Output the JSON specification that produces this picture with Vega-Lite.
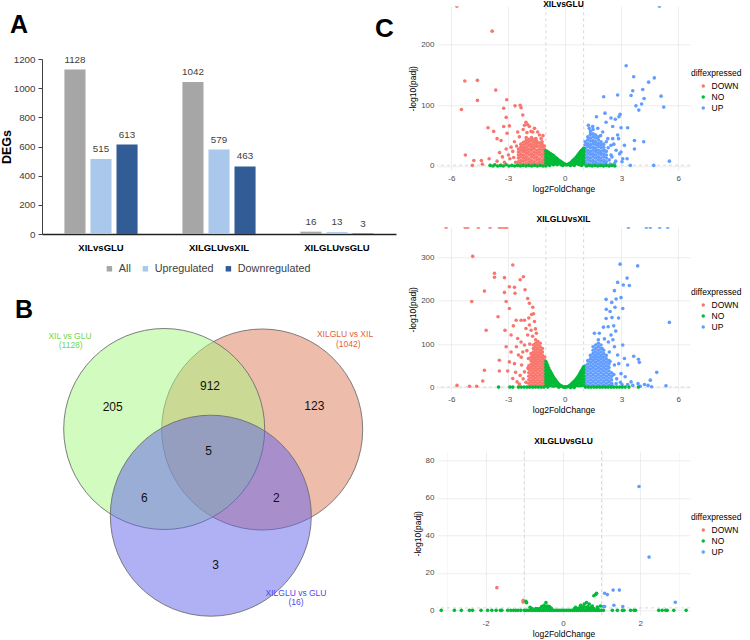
{
  "$schema": "https://vega.github.io/schema/vega-lite/v6.json",
  "background": "white",
  "padding": {"left": 0, "top": 0, "right": 0, "bottom": 0},
  "config": {
    "font": "Liberation Sans",
    "view": {"stroke": null},
    "title": {"color": "black"}
  },
  "datasets": {
    "degs": [
      {"cmp": "XILvsGLU", "type": "All", "n": 1128},
      {"cmp": "XILvsGLU", "type": "Upregulated", "n": 515},
      {"cmp": "XILvsGLU", "type": "Downregulated", "n": 613},
      {"cmp": "XILGLUvsXIL", "type": "All", "n": 1042},
      {"cmp": "XILGLUvsXIL", "type": "Upregulated", "n": 579},
      {"cmp": "XILGLUvsXIL", "type": "Downregulated", "n": 463},
      {"cmp": "XILGLUvsGLU", "type": "All", "n": 16},
      {"cmp": "XILGLUvsGLU", "type": "Upregulated", "n": 13},
      {"cmp": "XILGLUvsGLU", "type": "Downregulated", "n": 3}
    ],
    "venn_sets": [
      {"set": "R", "x": 0.498, "y": 0.286},
      {"set": "L", "x": -0.482, "y": 0.291},
      {"set": "B", "x": -0.016, "y": -0.576}
    ],
    "venn_nums": [
      {"x": -0.997, "y": 0.508, "n": 205},
      {"x": -0.024, "y": 0.724, "n": 912},
      {"x": 1.019, "y": 0.524, "n": 123},
      {"x": -0.037, "y": 0.074, "n": 5},
      {"x": -0.681, "y": -0.402, "n": 6},
      {"x": 0.639, "y": -0.402, "n": 2},
      {"x": 0.033, "y": -1.069, "n": 3}
    ],
    "venn_labels": [
      {"set": "L", "x": -1.424, "y": 1.224, "t": "XIL vs GLU"},
      {"set": "L", "x": -1.417, "y": 1.131, "t": "(1128)"},
      {"set": "R", "x": 1.326, "y": 1.241, "t": "XILGLU vs XIL"},
      {"set": "R", "x": 1.359, "y": 1.141, "t": "(1042)"},
      {"set": "B", "x": 0.836, "y": -1.349, "t": "XILGLU vs GLU"},
      {"set": "B", "x": 0.836, "y": -1.442, "t": "(16)"}
    ],
    "vl": [{"x": -1}, {"x": 1}],
    "hl": [{"y": 1.3}],
    "c1d": [
      {"x":-5.71,"y":263},{"x":-3.84,"y":222},{"x":-5.29,"y":140},{"x":-4.62,"y":141},{"x":-5.47,"y":93},{"x":-4.62,"y":108},{"x":-3.65,"y":125},{"x":-3.07,"y":109},{"x":-3.23,"y":95},{"x":-2.63,"y":99},{"x":-2.36,"y":100},{"x":-2.31,"y":96},{"x":-2.22,"y":84},{"x":-3.1,"y":80},{"x":-2.93,"y":66},{"x":-3.23,"y":65},{"x":-4.06,"y":63},{"x":-3.76,"y":57},{"x":-3.58,"y":45},{"x":-3.37,"y":42},{"x":-3.05,"y":54},{"x":-5.26,"y":18},{"x":-4.81,"y":9},{"x":-4.89,"y":1},{"x":-4.41,"y":9},{"x":-4.36,"y":3},{"x":-4.0,"y":12},{"x":-3.58,"y":8},{"x":-3.37,"y":1},{"x":-3.19,"y":6},{"x":-2.98,"y":18},{"x":-2.84,"y":31},{"x":-2.66,"y":40},{"x":-2.49,"y":56},{"x":-2.13,"y":67},{"x":-2.05,"y":72},{"x":-1.96,"y":68},{"x":-1.87,"y":65},{"x":-1.78,"y":57},{"x":-1.69,"y":56},{"x":-1.43,"y":56},{"x":-1.34,"y":51},{"x":-1.52,"y":45},{"x":-1.25,"y":45},{"x":-2.75,"y":24},{"x":-2.9,"y":12},{"x":-3.1,"y":28},{"x":-2.6,"y":6},{"x":-2.7,"y":14},{"x":-3.45,"y":22},{"x":-2.2,"y":60},{"x":-1.6,"y":62},{"x":-1.15,"y":50},{"x":-2.4,"y":48},{"x":-2.55,"y":33},{"x":-3.3,"y":15},{"x":-2.0,"y":55},
      {"x":-2.45,"y":2},{"x":-2.45,"y":7},{"x":-2.45,"y":13},{"x":-2.45,"y":18},{"x":-2.45,"y":23},{"x":-2.45,"y":28},
      {"x":-2.32,"y":4},{"x":-2.32,"y":9},{"x":-2.32,"y":15},{"x":-2.32,"y":20},{"x":-2.32,"y":26},{"x":-2.32,"y":31},{"x":-2.32,"y":36},
      {"x":-2.18,"y":2},{"x":-2.18,"y":8},{"x":-2.18,"y":13},{"x":-2.18,"y":18},{"x":-2.18,"y":24},{"x":-2.18,"y":29},{"x":-2.18,"y":34},{"x":-2.18,"y":39},
      {"x":-2.04,"y":4},{"x":-2.04,"y":10},{"x":-2.04,"y":15},{"x":-2.04,"y":21},{"x":-2.04,"y":26},{"x":-2.04,"y":31},{"x":-2.04,"y":37},{"x":-2.04,"y":42},{"x":-2.04,"y":47},
      {"x":-1.9,"y":2},{"x":-1.9,"y":7},{"x":-1.9,"y":12},{"x":-1.9,"y":18},{"x":-1.9,"y":23},{"x":-1.9,"y":28},{"x":-1.9,"y":34},{"x":-1.9,"y":39},{"x":-1.9,"y":44},
      {"x":-1.76,"y":4},{"x":-1.76,"y":9},{"x":-1.76,"y":15},{"x":-1.76,"y":20},{"x":-1.76,"y":26},{"x":-1.76,"y":31},{"x":-1.76,"y":36},{"x":-1.76,"y":42},{"x":-1.76,"y":47},
      {"x":-1.62,"y":2},{"x":-1.62,"y":7},{"x":-1.62,"y":13},{"x":-1.62,"y":18},{"x":-1.62,"y":23},{"x":-1.62,"y":29},{"x":-1.62,"y":34},{"x":-1.62,"y":39},{"x":-1.62,"y":44},
      {"x":-1.48,"y":4},{"x":-1.48,"y":10},{"x":-1.48,"y":15},{"x":-1.48,"y":21},{"x":-1.48,"y":26},{"x":-1.48,"y":32},{"x":-1.48,"y":37},{"x":-1.48,"y":41},
      {"x":-1.34,"y":2},{"x":-1.34,"y":7},{"x":-1.34,"y":12},{"x":-1.34,"y":18},{"x":-1.34,"y":23},{"x":-1.34,"y":28},{"x":-1.34,"y":33},{"x":-1.34,"y":38},
      {"x":-1.2,"y":4},{"x":-1.2,"y":9},{"x":-1.2,"y":15},{"x":-1.2,"y":20},{"x":-1.2,"y":26},{"x":-1.2,"y":31},{"x":-1.2,"y":36},{"x":-1.2,"y":40},
      {"x":-1.08,"y":2},{"x":-1.08,"y":7},{"x":-1.08,"y":12},{"x":-1.08,"y":18},{"x":-1.08,"y":23},{"x":-1.08,"y":28},{"x":-1.08,"y":33}
    ],
    "c1u": [
      {"x":5.01,"y":263},{"x":3.25,"y":165},{"x":3.65,"y":147},{"x":4.74,"y":145},{"x":4.44,"y":138},{"x":3.6,"y":124},{"x":4.13,"y":126},{"x":2.8,"y":117},{"x":2.06,"y":114},{"x":3.51,"y":116},{"x":4.2,"y":111},{"x":5.1,"y":115},{"x":5.24,"y":97},{"x":3.77,"y":99},{"x":3.92,"y":92},{"x":4.07,"y":102},{"x":1.68,"y":81},{"x":2.13,"y":87},{"x":2.45,"y":79},{"x":2.93,"y":85},{"x":2.87,"y":81},{"x":2.68,"y":77},{"x":2.19,"y":72},{"x":3.33,"y":63},{"x":2.98,"y":63},{"x":2.54,"y":65},{"x":3.69,"y":42},{"x":4.18,"y":40},{"x":3.69,"y":28},{"x":3.47,"y":1},{"x":4.71,"y":1},{"x":5.54,"y":8},{"x":3.03,"y":7},{"x":3.07,"y":12},{"x":2.63,"y":4},{"x":2.4,"y":3},{"x":2.1,"y":4},{"x":2.45,"y":18},{"x":2.72,"y":26},{"x":3.16,"y":34},{"x":2.45,"y":34},{"x":2.28,"y":45},{"x":2.01,"y":56},{"x":1.75,"y":62},{"x":1.48,"y":65},{"x":1.25,"y":67},{"x":2.8,"y":51},{"x":2.54,"y":45},{"x":2.98,"y":23},{"x":2.1,"y":26},{"x":2.35,"y":10},{"x":2.5,"y":15},{"x":2.3,"y":30},{"x":1.5,"y":60},{"x":1.9,"y":50},{"x":2.6,"y":36},{"x":2.2,"y":40},{"x":1.3,"y":62},{"x":2.7,"y":8},{"x":2.9,"y":20},{"x":3.3,"y":12},{"x":2.85,"y":45},
      {"x":1.08,"y":2},{"x":1.08,"y":7},{"x":1.08,"y":13},{"x":1.08,"y":18},{"x":1.08,"y":24},{"x":1.08,"y":29},{"x":1.08,"y":35},{"x":1.08,"y":40},
      {"x":1.22,"y":4},{"x":1.22,"y":10},{"x":1.22,"y":15},{"x":1.22,"y":21},{"x":1.22,"y":26},{"x":1.22,"y":32},{"x":1.22,"y":37},{"x":1.22,"y":43},{"x":1.22,"y":48},
      {"x":1.36,"y":2},{"x":1.36,"y":8},{"x":1.36,"y":13},{"x":1.36,"y":19},{"x":1.36,"y":24},{"x":1.36,"y":30},{"x":1.36,"y":35},{"x":1.36,"y":41},{"x":1.36,"y":46},{"x":1.36,"y":52},{"x":1.36,"y":57},
      {"x":1.5,"y":4},{"x":1.5,"y":9},{"x":1.5,"y":15},{"x":1.5,"y":20},{"x":1.5,"y":26},{"x":1.5,"y":31},{"x":1.5,"y":37},{"x":1.5,"y":42},{"x":1.5,"y":48},{"x":1.5,"y":53},
      {"x":1.64,"y":2},{"x":1.64,"y":7},{"x":1.64,"y":13},{"x":1.64,"y":18},{"x":1.64,"y":24},{"x":1.64,"y":29},{"x":1.64,"y":35},{"x":1.64,"y":40},{"x":1.64,"y":46},{"x":1.64,"y":51},
      {"x":1.78,"y":4},{"x":1.78,"y":10},{"x":1.78,"y":15},{"x":1.78,"y":21},{"x":1.78,"y":26},{"x":1.78,"y":32},{"x":1.78,"y":37},{"x":1.78,"y":43},{"x":1.78,"y":48},
      {"x":1.92,"y":2},{"x":1.92,"y":8},{"x":1.92,"y":13},{"x":1.92,"y":19},{"x":1.92,"y":24},{"x":1.92,"y":30},{"x":1.92,"y":35},{"x":1.92,"y":40},
      {"x":2.06,"y":4},{"x":2.06,"y":9},{"x":2.06,"y":15},{"x":2.06,"y":20},{"x":2.06,"y":26},{"x":2.06,"y":31},{"x":2.06,"y":36},
      {"x":2.2,"y":2},{"x":2.2,"y":7},{"x":2.2,"y":13},{"x":2.2,"y":18},{"x":2.2,"y":24}
    ],
    "c1n": [
      {"x":-1.0,"y":25},{"x":-1.0,"y":20},{"x":-1.0,"y":15},{"x":-1.0,"y":10},{"x":-1.0,"y":5},{"x":-1.0,"y":0},{"x":-0.95,"y":24},
      {"x":-0.9,"y":23},{"x":-0.9,"y":18},{"x":-0.9,"y":13},{"x":-0.9,"y":8},{"x":-0.9,"y":3},{"x":-0.85,"y":22},
      {"x":-0.8,"y":21},{"x":-0.8,"y":16},{"x":-0.8,"y":11},{"x":-0.8,"y":6},{"x":-0.8,"y":1},{"x":-0.75,"y":20},
      {"x":-0.7,"y":19},{"x":-0.7,"y":14},{"x":-0.7,"y":9},{"x":-0.7,"y":4},{"x":-0.65,"y":18},
      {"x":-0.6,"y":17},{"x":-0.6,"y":12},{"x":-0.6,"y":7},{"x":-0.6,"y":2},{"x":-0.55,"y":15},
      {"x":-0.5,"y":14},{"x":-0.5,"y":9},{"x":-0.5,"y":4},{"x":-0.45,"y":13},
      {"x":-0.4,"y":12},{"x":-0.4,"y":7},{"x":-0.4,"y":2},{"x":-0.35,"y":10},
      {"x":-0.3,"y":9},{"x":-0.3,"y":4},{"x":-0.25,"y":8},{"x":-0.2,"y":7},{"x":-0.2,"y":2},{"x":-0.15,"y":6},
      {"x":-0.1,"y":5},{"x":-0.1,"y":1},{"x":-0.05,"y":4},{"x":0,"y":3},{"x":0.05,"y":2},{"x":0.1,"y":2},{"x":0.15,"y":2},{"x":0.2,"y":3},{"x":0.25,"y":4},
      {"x":0.3,"y":5},{"x":0.3,"y":1},{"x":0.35,"y":6},{"x":0.4,"y":8},{"x":0.4,"y":3},{"x":0.45,"y":9},
      {"x":0.5,"y":11},{"x":0.5,"y":6},{"x":0.5,"y":1},{"x":0.55,"y":12},
      {"x":0.6,"y":14},{"x":0.6,"y":9},{"x":0.6,"y":4},{"x":0.65,"y":16},
      {"x":0.7,"y":18},{"x":0.7,"y":13},{"x":0.7,"y":8},{"x":0.7,"y":3},{"x":0.75,"y":20},
      {"x":0.8,"y":22},{"x":0.8,"y":17},{"x":0.8,"y":12},{"x":0.8,"y":7},{"x":0.8,"y":2},{"x":0.85,"y":24},
      {"x":0.9,"y":26},{"x":0.9,"y":21},{"x":0.9,"y":16},{"x":0.9,"y":11},{"x":0.9,"y":6},{"x":0.9,"y":1},{"x":0.95,"y":27},
      {"x":1.0,"y":29},{"x":1.0,"y":24},{"x":1.0,"y":19},{"x":1.0,"y":14},{"x":1.0,"y":9},{"x":1.0,"y":4},
      {"x":-3.95,"y":1},{"x":-3.8,"y":0},{"x":-3.7,"y":2},{"x":-3.55,"y":0},{"x":-3.4,"y":1},{"x":-3.25,"y":0},{"x":-3.1,"y":2},{"x":-2.95,"y":0},{"x":-2.8,"y":1},{"x":-2.65,"y":0},{"x":-2.5,"y":1},{"x":-2.35,"y":0},{"x":-2.2,"y":1},{"x":-2.05,"y":0},{"x":-1.9,"y":1},{"x":-1.75,"y":0},{"x":-1.6,"y":1},{"x":-1.45,"y":0},{"x":-1.3,"y":1},{"x":-1.15,"y":0},
      {"x":1.15,"y":0},{"x":1.3,"y":1},{"x":1.45,"y":0},{"x":1.6,"y":1},{"x":1.75,"y":0},{"x":1.9,"y":1},{"x":2.05,"y":0},{"x":2.2,"y":1},{"x":2.35,"y":0},{"x":2.5,"y":1},{"x":2.65,"y":0}
    ],
    "c2d": [
      {"x":-6.28,"y":369},{"x":-5.27,"y":369},{"x":-5.13,"y":369},{"x":-4.57,"y":369},{"x":-3.95,"y":369},{"x":-3.46,"y":369},{"x":-3.33,"y":369},{"x":-3.19,"y":369},{"x":-3.07,"y":369},
      {"x":-4.87,"y":302},{"x":-3.72,"y":263},{"x":-3.72,"y":254},{"x":-3.19,"y":253},{"x":-2.75,"y":282},{"x":-2.93,"y":232},{"x":-2.66,"y":231},{"x":-2.36,"y":248},{"x":-2.19,"y":255},{"x":-2.1,"y":225},{"x":-1.96,"y":205},{"x":-1.87,"y":194},{"x":-1.69,"y":185},{"x":-1.75,"y":168},{"x":-3.19,"y":219},{"x":-2.63,"y":217},{"x":-4.92,"y":198},{"x":-4.25,"y":222},{"x":-4.16,"y":132},{"x":-3.53,"y":163},{"x":-3.1,"y":198},{"x":-3.16,"y":132},{"x":-2.72,"y":142},{"x":-2.57,"y":155},{"x":-2.31,"y":155},{"x":-2.13,"y":155},{"x":-2.93,"y":182},{"x":-2.84,"y":121},{"x":-3.46,"y":63},{"x":-2.93,"y":59},{"x":-3.46,"y":38},{"x":-4.25,"y":40},{"x":-4.34,"y":15},{"x":-5.7,"y":5},{"x":-5.04,"y":3},{"x":-4.66,"y":3},{"x":-3.02,"y":38},{"x":-2.75,"y":21},{"x":-2.52,"y":13},{"x":-2.49,"y":113},{"x":-2.31,"y":105},{"x":-2.13,"y":98},{"x":-1.96,"y":121},{"x":-1.87,"y":144},{"x":-1.78,"y":132},{"x":-1.6,"y":152},{"x":-2.05,"y":136},{"x":-2.45,"y":75},{"x":-2.66,"y":55},{"x":-2.28,"y":52},{"x":-2.13,"y":36},{"x":-1.92,"y":67},{"x":-2.36,"y":28},{"x":-2.84,"y":82},{"x":-3.1,"y":94},{"x":-2.56,"y":94},{"x":-2.22,"y":82},{"x":-2.0,"y":85},{"x":-1.85,"y":100},{"x":-1.95,"y":45},{"x":-2.2,"y":20},{"x":-2.05,"y":12},{"x":-2.3,"y":70},{"x":-1.7,"y":118},{"x":-1.55,"y":135},{"x":-1.5,"y":125},{"x":-2.6,"y":35},{"x":-2.4,"y":8},{"x":-1.9,"y":160},{"x":-1.65,"y":170},
      {"x":-1.9,"y":2},{"x":-1.9,"y":10},{"x":-1.9,"y":18},{"x":-1.9,"y":26},{"x":-1.9,"y":34},{"x":-1.9,"y":42},{"x":-1.9,"y":50},
      {"x":-1.78,"y":6},{"x":-1.78,"y":14},{"x":-1.78,"y":22},{"x":-1.78,"y":30},{"x":-1.78,"y":38},{"x":-1.78,"y":46},{"x":-1.78,"y":54},{"x":-1.78,"y":62},{"x":-1.78,"y":70},{"x":-1.78,"y":78},
      {"x":-1.66,"y":2},{"x":-1.66,"y":10},{"x":-1.66,"y":18},{"x":-1.66,"y":26},{"x":-1.66,"y":34},{"x":-1.66,"y":42},{"x":-1.66,"y":50},{"x":-1.66,"y":58},{"x":-1.66,"y":66},{"x":-1.66,"y":74},{"x":-1.66,"y":82},{"x":-1.66,"y":90},{"x":-1.66,"y":98},
      {"x":-1.54,"y":6},{"x":-1.54,"y":14},{"x":-1.54,"y":22},{"x":-1.54,"y":30},{"x":-1.54,"y":38},{"x":-1.54,"y":46},{"x":-1.54,"y":54},{"x":-1.54,"y":62},{"x":-1.54,"y":70},{"x":-1.54,"y":78},{"x":-1.54,"y":86},{"x":-1.54,"y":94},{"x":-1.54,"y":102},{"x":-1.54,"y":110},
      {"x":-1.42,"y":2},{"x":-1.42,"y":10},{"x":-1.42,"y":18},{"x":-1.42,"y":26},{"x":-1.42,"y":34},{"x":-1.42,"y":42},{"x":-1.42,"y":50},{"x":-1.42,"y":58},{"x":-1.42,"y":66},{"x":-1.42,"y":74},{"x":-1.42,"y":82},{"x":-1.42,"y":90},{"x":-1.42,"y":98},{"x":-1.42,"y":106},
      {"x":-1.3,"y":6},{"x":-1.3,"y":14},{"x":-1.3,"y":22},{"x":-1.3,"y":30},{"x":-1.3,"y":38},{"x":-1.3,"y":46},{"x":-1.3,"y":54},{"x":-1.3,"y":62},{"x":-1.3,"y":70},{"x":-1.3,"y":78},{"x":-1.3,"y":86},{"x":-1.3,"y":94},{"x":-1.3,"y":102},
      {"x":-1.18,"y":2},{"x":-1.18,"y":10},{"x":-1.18,"y":18},{"x":-1.18,"y":26},{"x":-1.18,"y":34},{"x":-1.18,"y":42},{"x":-1.18,"y":50},{"x":-1.18,"y":58},{"x":-1.18,"y":66},{"x":-1.18,"y":74},{"x":-1.18,"y":82},{"x":-1.18,"y":90},
      {"x":-1.06,"y":6},{"x":-1.06,"y":14},{"x":-1.06,"y":22},{"x":-1.06,"y":30},{"x":-1.06,"y":38},{"x":-1.06,"y":46},{"x":-1.06,"y":54},{"x":-1.06,"y":62},{"x":-1.06,"y":70}
    ],
    "c2u": [
      {"x":3.37,"y":369},{"x":4.32,"y":369},{"x":4.53,"y":369},{"x":5.03,"y":369},{"x":5.45,"y":369},
      {"x":2.93,"y":284},{"x":3.86,"y":280},{"x":3.3,"y":252},{"x":3.1,"y":236},{"x":2.8,"y":242},{"x":3.42,"y":235},{"x":2.63,"y":223},{"x":2.19,"y":203},{"x":2.72,"y":204},{"x":2.49,"y":196},{"x":2.98,"y":207},{"x":3.07,"y":182},{"x":2.66,"y":185},{"x":2.4,"y":175},{"x":2.5,"y":161},{"x":2.19,"y":159},{"x":2.59,"y":142},{"x":2.05,"y":139},{"x":1.83,"y":125},{"x":1.57,"y":125},{"x":5.54,"y":150},{"x":3.65,"y":72},{"x":3.9,"y":65},{"x":3.95,"y":58},{"x":4.87,"y":35},{"x":4.53,"y":17},{"x":4.22,"y":7},{"x":5.36,"y":4},{"x":3.16,"y":67},{"x":2.8,"y":75},{"x":2.86,"y":55},{"x":2.98,"y":32},{"x":2.63,"y":52},{"x":2.45,"y":121},{"x":2.31,"y":105},{"x":2.1,"y":112},{"x":1.98,"y":90},{"x":2.36,"y":82},{"x":2.63,"y":94},{"x":3.07,"y":98},{"x":3.33,"y":52},{"x":3.51,"y":13},{"x":3.88,"y":9},{"x":4.41,"y":5},{"x":3.33,"y":7},{"x":2.72,"y":9},{"x":3.03,"y":7},{"x":2.3,"y":140},{"x":2.55,"y":110},{"x":2.7,"y":130},{"x":2.2,"y":180},{"x":2.85,"y":160},{"x":2.4,"y":60},{"x":2.6,"y":30},{"x":2.75,"y":20},{"x":3.2,"y":25},{"x":2.95,"y":12},{"x":3.6,"y":5},{"x":4.0,"y":3},{"x":4.6,"y":2},{"x":2.5,"y":5},
      {"x":1.08,"y":2},{"x":1.08,"y":10},{"x":1.08,"y":18},{"x":1.08,"y":26},{"x":1.08,"y":34},{"x":1.08,"y":42},{"x":1.08,"y":50},
      {"x":1.22,"y":6},{"x":1.22,"y":14},{"x":1.22,"y":22},{"x":1.22,"y":30},{"x":1.22,"y":38},{"x":1.22,"y":46},{"x":1.22,"y":54},{"x":1.22,"y":62},
      {"x":1.36,"y":2},{"x":1.36,"y":10},{"x":1.36,"y":18},{"x":1.36,"y":26},{"x":1.36,"y":34},{"x":1.36,"y":42},{"x":1.36,"y":50},{"x":1.36,"y":58},{"x":1.36,"y":66},{"x":1.36,"y":74},
      {"x":1.5,"y":6},{"x":1.5,"y":14},{"x":1.5,"y":22},{"x":1.5,"y":30},{"x":1.5,"y":38},{"x":1.5,"y":46},{"x":1.5,"y":54},{"x":1.5,"y":62},{"x":1.5,"y":70},{"x":1.5,"y":78},{"x":1.5,"y":86},{"x":1.5,"y":94},
      {"x":1.64,"y":2},{"x":1.64,"y":10},{"x":1.64,"y":18},{"x":1.64,"y":26},{"x":1.64,"y":34},{"x":1.64,"y":42},{"x":1.64,"y":50},{"x":1.64,"y":58},{"x":1.64,"y":66},{"x":1.64,"y":74},{"x":1.64,"y":82},{"x":1.64,"y":90},{"x":1.64,"y":98},
      {"x":1.78,"y":6},{"x":1.78,"y":14},{"x":1.78,"y":22},{"x":1.78,"y":30},{"x":1.78,"y":38},{"x":1.78,"y":46},{"x":1.78,"y":54},{"x":1.78,"y":62},{"x":1.78,"y":70},{"x":1.78,"y":78},{"x":1.78,"y":86},{"x":1.78,"y":94},{"x":1.78,"y":102},{"x":1.78,"y":110},
      {"x":1.92,"y":2},{"x":1.92,"y":10},{"x":1.92,"y":18},{"x":1.92,"y":26},{"x":1.92,"y":34},{"x":1.92,"y":42},{"x":1.92,"y":50},{"x":1.92,"y":58},{"x":1.92,"y":66},{"x":1.92,"y":74},{"x":1.92,"y":82},{"x":1.92,"y":90},{"x":1.92,"y":98},
      {"x":2.06,"y":6},{"x":2.06,"y":14},{"x":2.06,"y":22},{"x":2.06,"y":30},{"x":2.06,"y":38},{"x":2.06,"y":46},{"x":2.06,"y":54},{"x":2.06,"y":62},{"x":2.06,"y":70},{"x":2.06,"y":78},{"x":2.06,"y":86},
      {"x":2.2,"y":2},{"x":2.2,"y":10},{"x":2.2,"y":18},{"x":2.2,"y":26},{"x":2.2,"y":34},{"x":2.2,"y":42},{"x":2.2,"y":50},{"x":2.2,"y":58},{"x":2.2,"y":66},{"x":2.2,"y":74},
      {"x":2.34,"y":6},{"x":2.34,"y":14},{"x":2.34,"y":22},{"x":2.34,"y":30},{"x":2.34,"y":38},{"x":2.34,"y":46},{"x":2.34,"y":54},{"x":2.34,"y":62},
      {"x":2.48,"y":2},{"x":2.48,"y":10},{"x":2.48,"y":18},{"x":2.48,"y":26},{"x":2.48,"y":34}
    ],
    "c2n": [
      {"x":-1.0,"y":60},{"x":-1.0,"y":53},{"x":-1.0,"y":46},{"x":-1.0,"y":39},{"x":-1.0,"y":32},{"x":-1.0,"y":25},{"x":-1.0,"y":18},{"x":-1.0,"y":11},{"x":-1.0,"y":4},
      {"x":-0.95,"y":55},{"x":-0.95,"y":48},
      {"x":-0.9,"y":50},{"x":-0.9,"y":43},{"x":-0.9,"y":36},{"x":-0.9,"y":29},{"x":-0.9,"y":22},{"x":-0.9,"y":15},{"x":-0.9,"y":8},{"x":-0.9,"y":1},
      {"x":-0.85,"y":45},{"x":-0.85,"y":38},
      {"x":-0.8,"y":40},{"x":-0.8,"y":33},{"x":-0.8,"y":26},{"x":-0.8,"y":19},{"x":-0.8,"y":12},{"x":-0.8,"y":5},
      {"x":-0.75,"y":36},{"x":-0.75,"y":29},
      {"x":-0.7,"y":32},{"x":-0.7,"y":25},{"x":-0.7,"y":18},{"x":-0.7,"y":11},{"x":-0.7,"y":4},
      {"x":-0.65,"y":28},{"x":-0.65,"y":21},
      {"x":-0.6,"y":24},{"x":-0.6,"y":17},{"x":-0.6,"y":10},{"x":-0.6,"y":3},
      {"x":-0.55,"y":21},{"x":-0.55,"y":14},
      {"x":-0.5,"y":18},{"x":-0.5,"y":11},{"x":-0.5,"y":4},
      {"x":-0.45,"y":15},{"x":-0.45,"y":8},
      {"x":-0.4,"y":12},{"x":-0.4,"y":5},{"x":-0.35,"y":9},{"x":-0.35,"y":2},
      {"x":-0.3,"y":7},{"x":-0.3,"y":1},{"x":-0.25,"y":5},{"x":-0.2,"y":4},{"x":-0.15,"y":3},{"x":-0.1,"y":2},{"x":-0.05,"y":1},{"x":0,"y":1},{"x":0.05,"y":1},{"x":0.1,"y":2},{"x":0.15,"y":2},{"x":0.2,"y":3},{"x":0.25,"y":4},
      {"x":0.3,"y":6},{"x":0.3,"y":0},{"x":0.35,"y":8},{"x":0.35,"y":1},{"x":0.4,"y":10},{"x":0.4,"y":3},{"x":0.45,"y":12},{"x":0.45,"y":5},
      {"x":0.5,"y":14},{"x":0.5,"y":7},{"x":0.5,"y":0},{"x":0.55,"y":16},{"x":0.55,"y":9},
      {"x":0.6,"y":19},{"x":0.6,"y":12},{"x":0.6,"y":5},{"x":0.65,"y":22},{"x":0.65,"y":15},
      {"x":0.7,"y":25},{"x":0.7,"y":18},{"x":0.7,"y":11},{"x":0.7,"y":4},{"x":0.75,"y":28},{"x":0.75,"y":21},
      {"x":0.8,"y":32},{"x":0.8,"y":25},{"x":0.8,"y":18},{"x":0.8,"y":11},{"x":0.8,"y":4},{"x":0.85,"y":36},{"x":0.85,"y":29},
      {"x":0.9,"y":40},{"x":0.9,"y":33},{"x":0.9,"y":26},{"x":0.9,"y":19},{"x":0.9,"y":12},{"x":0.9,"y":5},{"x":0.95,"y":44},{"x":0.95,"y":37},
      {"x":1.0,"y":48},{"x":1.0,"y":41},{"x":1.0,"y":34},{"x":1.0,"y":27},{"x":1.0,"y":20},{"x":1.0,"y":13},{"x":1.0,"y":6},
      {"x":-3.5,"y":1},{"x":-2.9,"y":1},{"x":-2.75,"y":1},{"x":-2.45,"y":1},{"x":-2.3,"y":1},{"x":-2.15,"y":1},{"x":-2.0,"y":1},{"x":-1.85,"y":1},{"x":-1.7,"y":1},{"x":-1.55,"y":1},{"x":-1.4,"y":1},{"x":-1.25,"y":1},{"x":-1.1,"y":1},
      {"x":1.1,"y":1},{"x":1.25,"y":1},{"x":1.4,"y":1},{"x":1.55,"y":1},{"x":1.7,"y":1},{"x":1.85,"y":1},{"x":2.0,"y":1},{"x":2.15,"y":1},{"x":2.3,"y":1},{"x":2.45,"y":1},{"x":2.6,"y":1},{"x":2.75,"y":1},{"x":2.9,"y":1},{"x":3.05,"y":1},{"x":3.2,"y":1},{"x":3.4,"y":1},{"x":3.9,"y":1}
    ],
    "c3d": [
      {"x":-1.71,"y":12.1},{"x":-1.03,"y":5.3},{"x":-1.03,"y":4.4}
    ],
    "c3u": [
      {"x":1.97,"y":66},{"x":2.23,"y":28.4},{"x":1.3,"y":10.8},{"x":1.46,"y":10.8},{"x":1.08,"y":9.1},{"x":1.15,"y":8.4},{"x":2.91,"y":4.3},{"x":1.32,"y":2.7},{"x":1.55,"y":2.1},{"x":1.04,"y":2.1},{"x":1.08,"y":2.1}
    ],
    "c3n": [
      {"x":-3.15,"y":0},{"x":-2.81,"y":0},{"x":-2.63,"y":0},{"x":-2.42,"y":0},{"x":-2.34,"y":0},{"x":-2.12,"y":0},{"x":-1.95,"y":0},{"x":-1.84,"y":0},{"x":-1.73,"y":0},{"x":-1.62,"y":0},{"x":-1.58,"y":0},{"x":-1.43,"y":0},{"x":-1.35,"y":0},{"x":-1.28,"y":0},{"x":-1.22,"y":0},{"x":-1.16,"y":0},{"x":-1.09,"y":0},
      {"x":-1.0,"y":0},{"x":-0.95,"y":0},{"x":-0.9,"y":0},{"x":-0.85,"y":0},{"x":-0.8,"y":0},{"x":-0.75,"y":0},{"x":-0.7,"y":0},{"x":-0.65,"y":0},{"x":-0.6,"y":0},{"x":-0.55,"y":0},{"x":-0.5,"y":0},{"x":-0.45,"y":0},{"x":-0.4,"y":0},{"x":-0.35,"y":0},{"x":-0.3,"y":0},{"x":-0.25,"y":0},{"x":-0.2,"y":0},{"x":-0.15,"y":0},{"x":-0.1,"y":0},{"x":-0.05,"y":0},{"x":0,"y":0},{"x":0.05,"y":0},{"x":0.1,"y":0},{"x":0.15,"y":0},{"x":0.2,"y":0},{"x":0.25,"y":0},{"x":0.3,"y":0},{"x":0.35,"y":0},{"x":0.4,"y":0},{"x":0.45,"y":0},{"x":0.5,"y":0},{"x":0.55,"y":0},{"x":0.6,"y":0},{"x":0.65,"y":0},{"x":0.7,"y":0},{"x":0.75,"y":0},{"x":0.8,"y":0},{"x":0.85,"y":0},{"x":0.9,"y":0},{"x":0.95,"y":0},{"x":1.0,"y":0},{"x":1.05,"y":0},
      {"x":1.28,"y":0},{"x":1.41,"y":0},{"x":1.54,"y":0},{"x":1.58,"y":0},{"x":1.75,"y":0},{"x":1.84,"y":0},{"x":1.88,"y":0},{"x":2.48,"y":0},{"x":2.57,"y":0},{"x":2.66,"y":0},{"x":2.7,"y":0},{"x":2.87,"y":0},{"x":3.19,"y":0},
      {"x":-0.8,"y":1},{"x":-0.7,"y":1},{"x":-0.6,"y":1},{"x":-0.5,"y":1},{"x":-0.4,"y":1},{"x":-0.3,"y":1},{"x":0.3,"y":1},{"x":0.4,"y":1},{"x":0.5,"y":1},{"x":0.6,"y":1},{"x":0.7,"y":1},{"x":0.8,"y":1},{"x":0.9,"y":1},
      {"x":-0.55,"y":2},{"x":-0.45,"y":2},{"x":-0.35,"y":2},{"x":0.45,"y":2},{"x":0.55,"y":2},{"x":0.65,"y":2},{"x":0.75,"y":2},
      {"x":-0.96,"y":4.8},{"x":-0.94,"y":4.1},{"x":-0.85,"y":1.6},{"x":-0.66,"y":0.9},{"x":-0.44,"y":4.1},{"x":-0.49,"y":2.7},{"x":-0.4,"y":2.3},{"x":-0.31,"y":1.2},{"x":0.33,"y":1.6},{"x":0.46,"y":2.7},{"x":0.55,"y":3.4},{"x":0.61,"y":4.1},{"x":0.68,"y":3.4},{"x":0.76,"y":2.3},{"x":0.8,"y":7.8},{"x":0.85,"y":8.5},{"x":0.87,"y":9.1},{"x":0.89,"y":1.8},{"x":0.97,"y":2.3},{"x":0.5,"y":1.6},{"x":0.37,"y":0.9},{"x":0.72,"y":0.9},{"x":0.63,"y":1.6}
    ]
  },
  "resolve": {"scale": {"color": "independent", "fill": "independent"}},
  "spacing": -21,
  "center": true,
  "hconcat": [
    {
      "spacing": 23,
      "resolve": {"scale": {"color": "independent", "fill": "independent"}},
      "vconcat": [
        {
          "width": 354,
          "height": 175,
          "data": {"name": "degs"},
          "title": {"text": "A", "anchor": "start", "frame": "group", "fontSize": 25, "fontWeight": "bold", "dx": -32, "offset": 16},
          "encoding": {
            "x": {"field": "cmp", "type": "nominal", "sort": ["XILvsGLU", "XILGLUvsXIL", "XILGLUvsGLU"], "scale": {"paddingInner": 0.38, "paddingOuter": 0.19},
              "axis": {"title": null, "labelAngle": 0, "labelFontWeight": "bold", "labelFontSize": 9.5, "labelColor": "black", "ticks": false, "domainColor": "#222222", "domainWidth": 1.3, "labelPadding": 8}},
            "xOffset": {"field": "type", "type": "nominal", "sort": ["All", "Upregulated", "Downregulated"], "scale": {"paddingInner": 0.19, "paddingOuter": 0}},
            "y": {"field": "n", "type": "quantitative", "scale": {"domain": [0, 1200], "nice": false},
              "axis": {"values": [0, 200, 400, 600, 800, 1000, 1200], "format": "d", "title": "DEGs", "titleFontWeight": "bold", "titleFontSize": 12.5, "titleColor": "black", "titlePadding": 0, "grid": false, "labelFontSize": 9.8, "labelColor": "#404040", "domainColor": "#404040", "tickColor": "#404040", "tickSize": 4, "labelPadding": 3}}
          },
          "layer": [
            {
              "mark": {"type": "bar"},
              "encoding": {
                "color": {"field": "type", "type": "nominal", "sort": ["All", "Upregulated", "Downregulated"],
                  "scale": {"domain": ["All", "Upregulated", "Downregulated"], "range": ["#A6A6A6", "#AAC8EB", "#315C95"]},
                  "legend": {"title": null, "orient": "none", "direction": "horizontal", "legendX": 62, "legendY": 204, "symbolType": "square", "symbolSize": 30, "labelFontSize": 10.8, "labelColor": "#404040", "columnPadding": 9, "labelOffset": 4, "padding": 0}}
              }
            },
            {
              "mark": {"type": "text", "baseline": "bottom", "dy": -5, "fontSize": 9.8, "color": "#404040"},
              "encoding": {"text": {"field": "n", "type": "quantitative"}}
            }
          ]
        },
        {
          "width": 330,
          "height": 301,
          "title": {"text": "B", "anchor": "start", "frame": "group", "fontSize": 25, "fontWeight": "bold", "dx": -27, "offset": -0.5},
          "layer": [
            {
              "data": {"name": "venn_sets"},
              "mark": {"type": "circle", "size": 40401, "opacity": 1, "fillOpacity": 0.5, "stroke": "#6e6e6e", "strokeWidth": 0.9},
              "encoding": {
                "x": {"field": "x", "type": "quantitative", "scale": {"domain": [-1.704, 1.596], "nice": false, "zero": false}, "axis": null},
                "y": {"field": "y", "type": "quantitative", "scale": {"domain": [-1.649, 1.361], "nice": false, "zero": false}, "axis": null},
                "fill": {"field": "set", "type": "nominal", "scale": {"domain": ["R", "L", "B"], "range": ["#DD7957", "#A5F77F", "#6161EB"]}, "legend": null}
              }
            },
            {
              "data": {"name": "venn_nums"},
              "mark": {"type": "text", "fontSize": 12, "color": "#111111"},
              "encoding": {
                "x": {"field": "x", "type": "quantitative", "axis": null},
                "y": {"field": "y", "type": "quantitative", "axis": null},
                "text": {"field": "n", "type": "quantitative"}
              }
            },
            {
              "data": {"name": "venn_labels"},
              "mark": {"type": "text", "fontSize": 8.5},
              "encoding": {
                "x": {"field": "x", "type": "quantitative", "axis": null},
                "y": {"field": "y", "type": "quantitative", "axis": null},
                "text": {"field": "t"},
                "color": {"field": "set", "type": "nominal", "scale": {"domain": ["L", "R", "B"], "range": ["#6FD948", "#DF5F3B", "#4B4BEF"]}, "legend": null}
              }
            }
          ]
        }
      ]
    },
    {
      "spacing": 22,
      "resolve": {"scale": {"color": "independent"}},
      "title": {"text": "C", "orient": "left", "anchor": "end", "angle": 0, "align": "right", "baseline": "top", "frame": "bounds", "fontSize": 26, "fontWeight": "bold", "offset": -4, "dy": 16},
      "vconcat": [
        {
          "width": 253,
          "height": 164,
          "title": {"text": "XILvsGLU", "fontSize": 8.5, "fontWeight": "bold", "offset": -3},
          "layer": [
            {"data": {"name": "vl"}, "mark": {"type": "rule", "strokeDash": [3, 3], "color": "#c8c8c8", "strokeWidth": 0.7},
              "encoding": {"x": {"field": "x", "type": "quantitative", "scale": {"domain": [-6.76, 6.63], "nice": false, "zero": false},
                "axis": {"title": "log2FoldChange", "values": [-6, -4.5, -3, -1.5, 0, 1.5, 3, 4.5, 6], "labelExpr": "datum.value % 3 === 0 ? '' + datum.value : ''", "grid": true, "gridColor": {"condition": {"test": "datum.value % 3 === 0", "value": "#e6e6e6"}, "value": "#f3f3f3"}, "gridWidth": 0.7, "domain": false, "ticks": false, "labelFontSize": 8, "labelColor": "#4d4d4d", "labelPadding": 4, "titleFontSize": 8.5, "titleFontWeight": "normal", "titleColor": "black", "titlePadding": 2}}}},
            {"data": {"name": "hl"}, "mark": {"type": "rule", "strokeDash": [3, 3], "color": "#c8c8c8", "strokeWidth": 0.7},
              "encoding": {"y": {"field": "y", "type": "quantitative", "scale": {"domain": [-7, 263], "nice": false, "zero": false},
                "axis": {"title": "-log10(padj)", "values": [0, 25, 50, 75, 100, 125, 150, 175, 200, 225, 250], "labelExpr": "datum.value % 50 === 0 ? '' + datum.value : ''", "grid": true, "gridColor": {"condition": {"test": "datum.value % 50 === 0", "value": "#e6e6e6"}, "value": "#f3f3f3"}, "gridWidth": 0.7, "domain": false, "ticks": false, "labelFontSize": 8, "labelColor": "#4d4d4d", "labelPadding": 3, "titleFontSize": 8.5, "titleFontWeight": "normal", "titleColor": "black", "titlePadding": 3}}}},
            {"data": {"name": "c1d"}, "mark": {"type": "circle", "size": 13, "opacity": 1, "clip": true},
              "encoding": {
                "x": {"field": "x", "type": "quantitative", "scale": {"domain": [-6.76, 6.63], "nice": false, "zero": false}},
                "y": {"field": "y", "type": "quantitative", "scale": {"domain": [-7, 263], "nice": false, "zero": false}},
                "color": {"datum": "DOWN", "type": "nominal", "scale": {"domain": ["DOWN", "NO", "UP"], "range": ["#F8766D", "#00BA38", "#619CFF"]},
                  "legend": {"title": "diffexpressed", "orient": "none", "legendX": 254, "legendY": 63, "titleFontSize": 8.5, "titleFontWeight": "normal", "titleColor": "black", "labelFontSize": 8.5, "labelColor": "black", "symbolType": "circle", "symbolSize": 12, "symbolOffset": 8, "rowPadding": 2, "titlePadding": 4, "padding": 0}}
              }},
            {"data": {"name": "c1u"}, "mark": {"type": "circle", "size": 13, "opacity": 1, "clip": true},
              "encoding": {
                "x": {"field": "x", "type": "quantitative", "scale": {"domain": [-6.76, 6.63], "nice": false, "zero": false}},
                "y": {"field": "y", "type": "quantitative", "scale": {"domain": [-7, 263], "nice": false, "zero": false}},
                "color": {"datum": "UP", "type": "nominal", "scale": {"domain": ["DOWN", "NO", "UP"], "range": ["#F8766D", "#00BA38", "#619CFF"]}, "legend": null}
              }},
            {"data": {"name": "c1n"}, "mark": {"type": "circle", "size": 13, "opacity": 1, "clip": true},
              "encoding": {
                "x": {"field": "x", "type": "quantitative", "scale": {"domain": [-6.76, 6.63], "nice": false, "zero": false}},
                "y": {"field": "y", "type": "quantitative", "scale": {"domain": [-7, 263], "nice": false, "zero": false}},
                "color": {"datum": "NO", "type": "nominal", "scale": {"domain": ["DOWN", "NO", "UP"], "range": ["#F8766D", "#00BA38", "#619CFF"]}, "legend": null}
              }}
          ]
        },
        {
          "width": 253,
          "height": 164,
          "title": {"text": "XILGLUvsXIL", "fontSize": 8.5, "fontWeight": "bold", "offset": 3},
          "layer": [
            {"data": {"name": "vl"}, "mark": {"type": "rule", "strokeDash": [3, 3], "color": "#c8c8c8", "strokeWidth": 0.7},
              "encoding": {"x": {"field": "x", "type": "quantitative", "scale": {"domain": [-6.76, 6.63], "nice": false, "zero": false},
                "axis": {"title": "log2FoldChange", "values": [-6, -4.5, -3, -1.5, 0, 1.5, 3, 4.5, 6], "labelExpr": "datum.value % 3 === 0 ? '' + datum.value : ''", "grid": true, "gridColor": {"condition": {"test": "datum.value % 3 === 0", "value": "#e6e6e6"}, "value": "#f3f3f3"}, "gridWidth": 0.7, "domain": false, "ticks": false, "labelFontSize": 8, "labelColor": "#4d4d4d", "labelPadding": 4, "titleFontSize": 8.5, "titleFontWeight": "normal", "titleColor": "black", "titlePadding": 2}}}},
            {"data": {"name": "hl"}, "mark": {"type": "rule", "strokeDash": [3, 3], "color": "#c8c8c8", "strokeWidth": 0.7},
              "encoding": {"y": {"field": "y", "type": "quantitative", "scale": {"domain": [-8.5, 369], "nice": false, "zero": false},
                "axis": {"title": "-log10(padj)", "values": [0, 50, 100, 150, 200, 250, 300, 350], "labelExpr": "datum.value % 100 === 0 ? '' + datum.value : ''", "grid": true, "gridColor": {"condition": {"test": "datum.value % 100 === 0", "value": "#e6e6e6"}, "value": "#f3f3f3"}, "gridWidth": 0.7, "domain": false, "ticks": false, "labelFontSize": 8, "labelColor": "#4d4d4d", "labelPadding": 3, "titleFontSize": 8.5, "titleFontWeight": "normal", "titleColor": "black", "titlePadding": 3}}}},
            {"data": {"name": "c2d"}, "mark": {"type": "circle", "size": 13, "opacity": 1, "clip": true},
              "encoding": {
                "x": {"field": "x", "type": "quantitative", "scale": {"domain": [-6.76, 6.63], "nice": false, "zero": false}},
                "y": {"field": "y", "type": "quantitative", "scale": {"domain": [-8.5, 369], "nice": false, "zero": false}},
                "color": {"datum": "DOWN", "type": "nominal", "scale": {"domain": ["DOWN", "NO", "UP"], "range": ["#F8766D", "#00BA38", "#619CFF"]},
                  "legend": {"title": "diffexpressed", "orient": "none", "legendX": 254, "legendY": 61, "titleFontSize": 8.5, "titleFontWeight": "normal", "titleColor": "black", "labelFontSize": 8.5, "labelColor": "black", "symbolType": "circle", "symbolSize": 12, "symbolOffset": 8, "rowPadding": 2, "titlePadding": 4, "padding": 0}}
              }},
            {"data": {"name": "c2u"}, "mark": {"type": "circle", "size": 13, "opacity": 1, "clip": true},
              "encoding": {
                "x": {"field": "x", "type": "quantitative", "scale": {"domain": [-6.76, 6.63], "nice": false, "zero": false}},
                "y": {"field": "y", "type": "quantitative", "scale": {"domain": [-8.5, 369], "nice": false, "zero": false}},
                "color": {"datum": "UP", "type": "nominal", "scale": {"domain": ["DOWN", "NO", "UP"], "range": ["#F8766D", "#00BA38", "#619CFF"]}, "legend": null}
              }},
            {"data": {"name": "c2n"}, "mark": {"type": "circle", "size": 13, "opacity": 1, "clip": true},
              "encoding": {
                "x": {"field": "x", "type": "quantitative", "scale": {"domain": [-6.76, 6.63], "nice": false, "zero": false}},
                "y": {"field": "y", "type": "quantitative", "scale": {"domain": [-8.5, 369], "nice": false, "zero": false}},
                "color": {"datum": "NO", "type": "nominal", "scale": {"domain": ["DOWN", "NO", "UP"], "range": ["#F8766D", "#00BA38", "#619CFF"]}, "legend": null}
              }}
          ]
        },
        {
          "width": 253,
          "height": 164,
          "title": {"text": "XILGLUvsGLU", "fontSize": 8.5, "fontWeight": "bold", "offset": 5.5},
          "layer": [
            {"data": {"name": "vl"}, "mark": {"type": "rule", "strokeDash": [3, 3], "color": "#c8c8c8", "strokeWidth": 0.7},
              "encoding": {"x": {"field": "x", "type": "quantitative", "scale": {"domain": [-3.26, 3.29], "nice": false, "zero": false},
                "axis": {"title": ["log2FoldChange", ""], "titleLineHeight": 38, "values": [-3, -2, -1, 0, 1, 2, 3], "labelExpr": "datum.value % 2 === 0 ? '' + datum.value : ''", "grid": true, "gridColor": {"condition": {"test": "datum.value % 2 === 0", "value": "#e6e6e6"}, "value": "#f3f3f3"}, "gridWidth": 0.7, "domain": false, "ticks": false, "labelFontSize": 8, "labelColor": "#4d4d4d", "labelPadding": 4, "titleFontSize": 8.5, "titleFontWeight": "normal", "titleColor": "black", "titlePadding": 2}}}},
            {"data": {"name": "hl"}, "mark": {"type": "rule", "strokeDash": [3, 3], "color": "#c8c8c8", "strokeWidth": 0.7},
              "encoding": {"y": {"field": "y", "type": "quantitative", "scale": {"domain": [-2.6, 84.8], "nice": false, "zero": false},
                "axis": {"title": "-log10(padj)", "values": [0, 10, 20, 30, 40, 50, 60, 70, 80], "labelExpr": "datum.value % 20 === 0 ? '' + datum.value : ''", "grid": true, "gridColor": {"condition": {"test": "datum.value % 20 === 0", "value": "#e6e6e6"}, "value": "#f3f3f3"}, "gridWidth": 0.7, "domain": false, "ticks": false, "labelFontSize": 8, "labelColor": "#4d4d4d", "labelPadding": 3, "titleFontSize": 8.5, "titleFontWeight": "normal", "titleColor": "black", "titlePadding": 3}}}},
            {"data": {"name": "c3d"}, "mark": {"type": "circle", "size": 13, "opacity": 1, "clip": true},
              "encoding": {
                "x": {"field": "x", "type": "quantitative", "scale": {"domain": [-3.26, 3.29], "nice": false, "zero": false}},
                "y": {"field": "y", "type": "quantitative", "scale": {"domain": [-2.6, 84.8], "nice": false, "zero": false}},
                "color": {"datum": "DOWN", "type": "nominal", "scale": {"domain": ["DOWN", "NO", "UP"], "range": ["#F8766D", "#00BA38", "#619CFF"]},
                  "legend": {"title": "diffexpressed", "orient": "none", "legendX": 254, "legendY": 62, "titleFontSize": 8.5, "titleFontWeight": "normal", "titleColor": "black", "labelFontSize": 8.5, "labelColor": "black", "symbolType": "circle", "symbolSize": 12, "symbolOffset": 8, "rowPadding": 2, "titlePadding": 4, "padding": 0}}
              }},
            {"data": {"name": "c3u"}, "mark": {"type": "circle", "size": 13, "opacity": 1, "clip": true},
              "encoding": {
                "x": {"field": "x", "type": "quantitative", "scale": {"domain": [-3.26, 3.29], "nice": false, "zero": false}},
                "y": {"field": "y", "type": "quantitative", "scale": {"domain": [-2.6, 84.8], "nice": false, "zero": false}},
                "color": {"datum": "UP", "type": "nominal", "scale": {"domain": ["DOWN", "NO", "UP"], "range": ["#F8766D", "#00BA38", "#619CFF"]}, "legend": null}
              }},
            {"data": {"name": "c3n"}, "mark": {"type": "circle", "size": 13, "opacity": 1, "clip": true},
              "encoding": {
                "x": {"field": "x", "type": "quantitative", "scale": {"domain": [-3.26, 3.29], "nice": false, "zero": false}},
                "y": {"field": "y", "type": "quantitative", "scale": {"domain": [-2.6, 84.8], "nice": false, "zero": false}},
                "color": {"datum": "NO", "type": "nominal", "scale": {"domain": ["DOWN", "NO", "UP"], "range": ["#F8766D", "#00BA38", "#619CFF"]}, "legend": null}
              }}
          ]
        }
      ]
    }
  ]
}
